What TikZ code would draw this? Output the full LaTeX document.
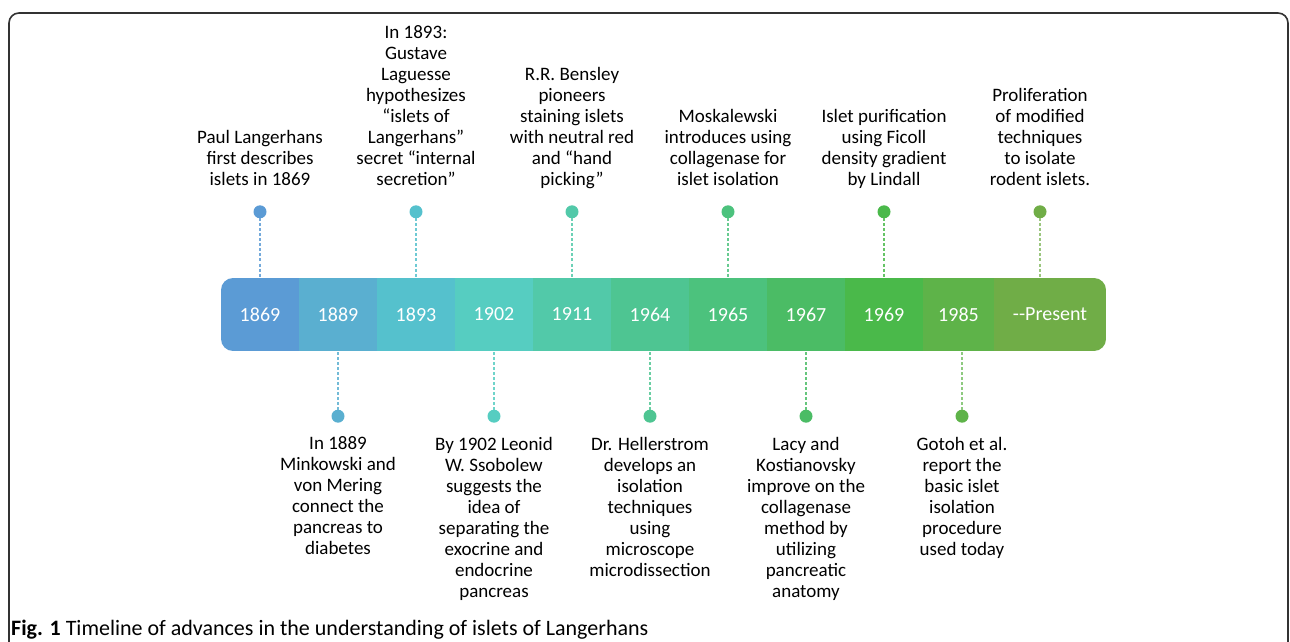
\documentclass[tikz,border=0pt]{standalone}
\usepackage{fontspec}
\setmainfont{Carlito}
\usepackage{xcolor}
\usepackage{tikz}
\usetikzlibrary{positioning}

\definecolor{c1869}{HTML}{5B9BD5}
\definecolor{c1889}{HTML}{5AAFD0}
\definecolor{c1893}{HTML}{55C1CD}
\definecolor{c1902}{HTML}{56CDC1}
\definecolor{c1911}{HTML}{52C9A9}
\definecolor{c1964}{HTML}{4EC592}
\definecolor{c1965}{HTML}{4CC27D}
\definecolor{c1967}{HTML}{4BBC65}
\definecolor{c1969}{HTML}{4AB94A}
\definecolor{c1985}{HTML}{5EB349}
\definecolor{cpres}{HTML}{70AD47}

\begin{document}
\begin{tikzpicture}[
    x=1pt, y=1pt,
    frame/.style={draw=black!80, line width=1.6pt, rounded corners=10pt},
    seg/.style={rectangle, inner sep=0pt, outer sep=0pt, minimum width=78pt, minimum height=73pt, text=white, font=\fontsize{20}{24}\selectfont},
    dot/.style={circle, inner sep=0pt, minimum size=13pt},
    note/.style={align=center, inner sep=0pt, font=\fontsize{19}{21}\selectfont},
    topnote/.style={note, execute at end node=\strut},
    botnote/.style={note, execute at begin node=\strut},
    link/.style={dash pattern=on 3pt off 2pt, line width=1.1pt},
]
\useasboundingbox (0,0) rectangle (1290,641);
\draw[frame] (9,-20) rectangle (1288,628);

% the bar
\begin{scope}
\clip[rounded corners=12pt] (221,290) rectangle (1106,363);
\node[seg, fill=c1869] (s1869) at (260,326.5) {1869};
\node[seg, fill=c1889, right=0pt of s1869] (s1889) {1889};
\node[seg, fill=c1893, right=0pt of s1889] (s1893) {1893};
\node[seg, fill=c1902, right=0pt of s1893] (s1902) {1902};
\node[seg, fill=c1911, right=0pt of s1902] (s1911) {1911};
\node[seg, fill=c1964, right=0pt of s1911] (s1964) {1964};
\node[seg, fill=c1965, right=0pt of s1964] (s1965) {1965};
\node[seg, fill=c1967, right=0pt of s1965] (s1967) {1967};
\node[seg, fill=c1969, right=0pt of s1967] (s1969) {1969};
\node[seg, fill=c1985, minimum width=71pt, right=0pt of s1969] (s1985) {1985};
\node[seg, fill=cpres, minimum width=112pt, right=0pt of s1985] (spres) {-{}-Present};
\end{scope}

% dots above
\node[dot, fill=c1869, above=59.5pt of s1869] (d1869) {};
\node[dot, fill=c1893, above=59.5pt of s1893] (d1893) {};
\node[dot, fill=c1911, above=59.5pt of s1911] (d1911) {};
\node[dot, fill=c1965, above=59.5pt of s1965] (d1965) {};
\node[dot, fill=c1969, above=59.5pt of s1969] (d1969) {};
\node[dot, fill=cpres, above=59.5pt of spres, xshift=-10pt] (dpres) {};

% dots below
\node[dot, fill=c1889, below=58.5pt of s1889] (d1889) {};
\node[dot, fill=c1902, below=58.5pt of s1902] (d1902) {};
\node[dot, fill=c1964, below=58.5pt of s1964] (d1964) {};
\node[dot, fill=c1967, below=58.5pt of s1967] (d1967) {};
\node[dot, fill=c1985, below=58.5pt of s1985, xshift=3.5pt] (d1985) {};

\draw[link, c1869!85] (d1869) -- (d1869 |- s1869.north);
\draw[link, c1893!85] (d1893) -- (d1893 |- s1893.north);
\draw[link, c1911!85] (d1911) -- (d1911 |- s1911.north);
\draw[link, c1965!85] (d1965) -- (d1965 |- s1965.north);
\draw[link, c1969!85] (d1969) -- (d1969 |- s1969.north);
\draw[link, cpres!70] (dpres) -- (dpres |- spres.north);
\draw[link, c1889!85] (d1889) -- (d1889 |- s1889.south);
\draw[link, c1902!85] (d1902) -- (d1902 |- s1902.south);
\draw[link, c1964!85] (d1964) -- (d1964 |- s1964.south);
\draw[link, c1967!85] (d1967) -- (d1967 |- s1967.south);
\draw[link, c1985!70] (d1985) -- (d1985 |- s1985.south);

% notes
\node[topnote, above=12.7pt of d1869] (n1869) {Paul Langerhans\\first describes\\islets in 1869};
\node[topnote, above=12.7pt of d1893] (n1893) {In 1893:\\Gustave\\Laguesse\\hypothesizes\\“islets of\\Langerhans”\\secret “internal\\secretion”};
\node[topnote, above=12.7pt of d1911] (n1911) {R.R. Bensley\\pioneers\\staining islets\\with neutral red\\and “hand\\picking”};
\node[topnote, above=12.7pt of d1965] (n1965) {Moskalewski\\introduces using\\collagenase for\\islet isolation};
\node[topnote, above=12.7pt of d1969] (n1969) {Islet purification\\using Ficoll\\density gradient\\by Lindall};
\node[topnote, above=12.7pt of dpres] (npres) {Proliferation\\of modified\\techniques\\to isolate\\rodent islets.};

\node[botnote, below=13.8pt of d1889] (n1889) {In 1889\\Minkowski and\\von Mering\\connect the\\pancreas to\\diabetes};
\node[botnote, below=13.8pt of d1902] (n1902) {By 1902 Leonid\\W. Ssobolew\\suggests the\\idea of\\separating the\\exocrine and\\endocrine\\pancreas};
\node[botnote, below=13.8pt of d1964] (n1964) {Dr. Hellerstrom\\develops an\\isolation\\techniques\\using\\microscope\\microdissection};
\node[botnote, below=13.8pt of d1967] (n1967) {Lacy and\\Kostianovsky\\improve on the\\collagenase\\method by\\utilizing\\pancreatic\\anatomy};
\node[botnote, below=13.8pt of d1985] (n1985) {Gotoh et al.\\report the\\basic islet\\isolation\\procedure\\used today};

\node[anchor=base west, inner sep=0pt, font=\fontsize{22}{26}\selectfont] (caption) at (11,6) {\textbf{Fig. 1} Timeline of advances in the understanding of islets of Langerhans};
\end{tikzpicture}
\end{document}
